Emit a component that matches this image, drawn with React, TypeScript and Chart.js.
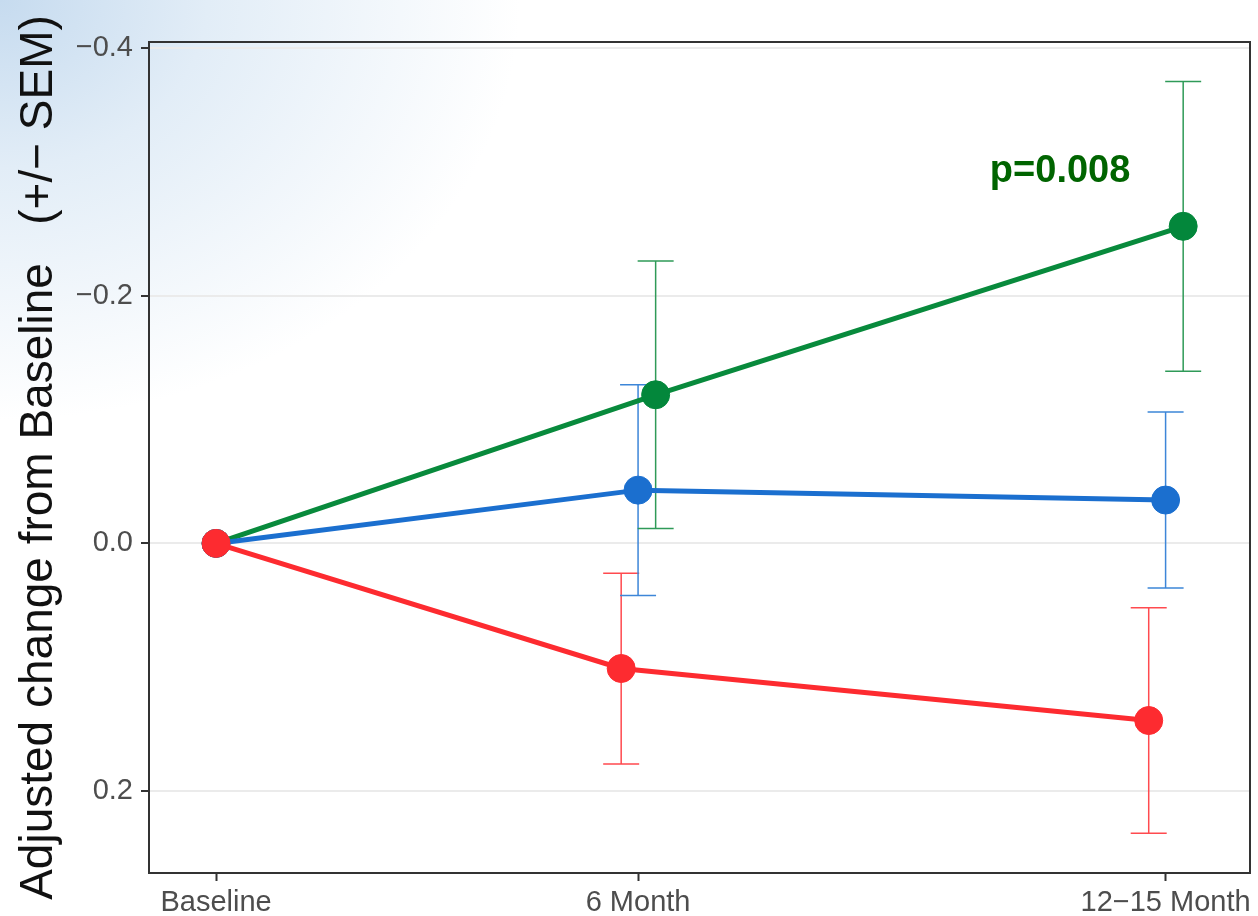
import React, { useEffect, useRef } from 'react';
import { Chart, registerables } from 'chart.js';

Chart.register(...registerables);

// ---- data ----
const timeLabels = ['Baseline', '6 Month', '12\u221215 Month'];
const timeValues = [0, 6, 13.5];
const yTicks = [-0.4, -0.2, 0, 0.2];

const redMean = [0, 0.101, 0.143];
const redSem = [null, 0.077, 0.091];
const blueMean = [0, -0.043, -0.035];
const blueSem = [null, 0.085, 0.071];
const greenMean = [0, -0.12, -0.256];
const greenSem = [null, 0.108, 0.117];

const redDodge = -0.24;
const blueDodge = 0;
const greenDodge = 0.25;

const pLabel = 'p=0.008';
const pX = 12;
const pY = -0.3;

const yTitle = 'Adjusted change from Baseline   (+/\u2212 SEM)';
const FONT = "'Liberation Sans', Arial, sans-serif";

function toPoints(means: number[], dodge: number) {
  return means.map((m, i) => ({ x: timeValues[i] + (i === 0 ? 0 : dodge), y: m }));
}

const errorBarPlugin = {
  id: 'errorBars',
  beforeDatasetsDraw(chart: any) {
    const { ctx, scales } = chart;
    const xs = scales.x;
    const ys = scales.y;
    chart.data.datasets.forEach((ds: any) => {
      ds.data.forEach((pt: any, i: number) => {
        const sem = ds.sem[i];
        if (sem == null) return;
        const px = xs.getPixelForValue(pt.x);
        const top = ys.getPixelForValue(pt.y - sem);
        const bot = ys.getPixelForValue(pt.y + sem);
        ctx.save();
        ctx.strokeStyle = ds.errColor;
        ctx.lineWidth = 1.5;
        ctx.beginPath();
        ctx.moveTo(px, top);
        ctx.lineTo(px, bot);
        ctx.moveTo(px - 18, top);
        ctx.lineTo(px + 18, top);
        ctx.moveTo(px - 18, bot);
        ctx.lineTo(px + 18, bot);
        ctx.stroke();
        ctx.restore();
      });
    });
  },
};

const annotationPlugin = {
  id: 'pAnnotation',
  afterDatasetsDraw(chart: any) {
    const { ctx, scales } = chart;
    const px = scales.x.getPixelForValue(pX);
    const py = scales.y.getPixelForValue(pY);
    ctx.save();
    ctx.font = `bold 38px ${FONT}`;
    ctx.fillStyle = '#006400';
    ctx.textAlign = 'center';
    ctx.textBaseline = 'middle';
    ctx.fillText(pLabel, px, py);
    ctx.restore();
  },
};

const borderPlugin = {
  id: 'panelBorder',
  afterDraw(chart: any) {
    const { ctx, chartArea } = chart;
    ctx.save();
    ctx.strokeStyle = '#333333';
    ctx.lineWidth = 2;
    ctx.strokeRect(chartArea.left, chartArea.top, chartArea.right - chartArea.left, chartArea.bottom - chartArea.top);
    ctx.restore();
  },
};

export default function App() {
  const canvasRef = useRef<HTMLCanvasElement | null>(null);

  useEffect(() => {
    document.body.style.margin = '0';
    document.documentElement.style.overflow = 'hidden';
    const canvas = canvasRef.current;
    if (!canvas) return;
    const chart = new Chart(canvas, {
      type: 'line',
      data: {
        datasets: [
          {
            label: 'red',
            data: toPoints(redMean, redDodge),
            sem: redSem,
            errColor: '#ff4a4f',
            borderColor: '#fd2b30',
            backgroundColor: '#fd2b30',
            borderWidth: 5,
            pointRadius: 14,
            pointBorderWidth: 1,
            pointBorderColor: '#fd2b30',
          } as any,
          {
            label: 'blue',
            data: toPoints(blueMean, blueDodge),
            sem: blueSem,
            errColor: '#3d86d8',
            borderColor: '#1b6fcf',
            backgroundColor: '#1b6fcf',
            borderWidth: 5,
            pointRadius: 14,
            pointBorderWidth: 1,
            pointBorderColor: '#1b6fcf',
          } as any,
          {
            label: 'green',
            data: toPoints(greenMean, greenDodge),
            sem: greenSem,
            errColor: '#2f9a58',
            borderColor: '#088a3c',
            backgroundColor: '#03873b',
            borderWidth: 5,
            pointRadius: 14,
            pointBorderWidth: 1,
            pointBorderColor: '#03873b',
          } as any,
        ],
      },
      options: {
        animation: false,
        responsive: false,
        maintainAspectRatio: false,
        layout: { autoPadding: false, padding: { left: 0, top: 42, right: 8, bottom: 0 } },
        plugins: {
          legend: { display: false },
          tooltip: { enabled: false },
        },
        scales: {
          x: {
            type: 'linear',
            min: -0.953,
            max: 14.7,
            afterBuildTicks: (scale: any) => {
              scale.ticks = timeValues.map((v) => ({ value: v }));
            },
            afterFit: (scale: any) => {
              scale.height = 43;
              scale.paddingLeft = 0;
              scale.paddingRight = 0;
            },
            ticks: {
              callback: (v: any) => {
                const idx = timeValues.indexOf(Number(v));
                return idx >= 0 ? timeLabels[idx] : '';
              },
              color: '#4d4d4d',
              font: { family: FONT, size: 29 },
              padding: 5,
              maxRotation: 0,
              autoSkip: false,
            },
            grid: {
              drawOnChartArea: false,
              drawTicks: true,
              tickLength: 8,
              tickColor: '#333333',
              tickWidth: 2,
            },
            border: { display: true, color: '#333333', width: 2 },
          },
          y: {
            type: 'linear',
            reverse: true,
            min: -0.4048,
            max: 0.2661,
            afterBuildTicks: (scale: any) => {
              scale.ticks = yTicks.map((v) => ({ value: v }));
            },
            afterFit: (scale: any) => {
              scale.width = 149;
              scale.paddingTop = 0;
              scale.paddingBottom = 0;
            },
            ticks: {
              callback: (v: any) => Number(v).toFixed(1).replace('-', '\u2212'),
              color: '#4d4d4d',
              font: { family: FONT, size: 29 },
              padding: 8,
            },
            grid: {
              color: '#ebebeb',
              lineWidth: 2,
              drawTicks: true,
              tickLength: 8,
              tickColor: '#333333',
              tickWidth: 2,
            },
            border: { display: true, color: '#333333', width: 2 },
            title: {
              display: true,
              text: yTitle,
              color: '#111111',
              font: { family: FONT, size: 46 },
              padding: { top: 12, bottom: 0 },
            },
          },
        },
      },
      plugins: [errorBarPlugin, annotationPlugin, borderPlugin],
    });
    return () => chart.destroy();
  }, []);

  return (
    <div
      style={{
        position: 'relative',
        width: 1258,
        height: 916,
        overflow: 'hidden',
        background:
          'radial-gradient(ellipse 520px 420px at 0px 0px, #c6dbef 0%, #e2edf7 40%, rgba(255,255,255,0) 100%), #ffffff',
      }}
    >
      <canvas ref={canvasRef} width={1258} height={916} style={{ display: 'block', width: 1258, height: 916 }} />
    </div>
  );
}
